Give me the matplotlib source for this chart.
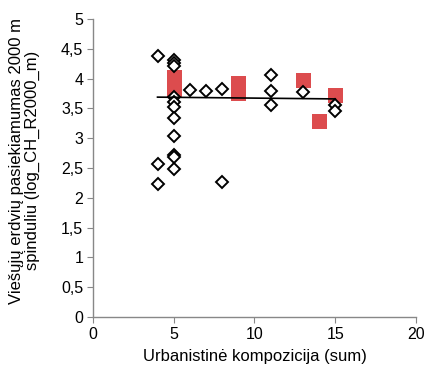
import matplotlib.pyplot as plt
import numpy as np

plt.rcParams['font.family'] = ['Liberation Sans', 'DejaVu Sans']

# diamonds (open markers)
x_diam = [4, 4, 4, 5, 5, 5, 5, 5, 5, 5, 5, 5, 5, 5, 6, 7, 8, 8, 11, 11, 11, 13, 15, 15]
y_diam = [4.38, 2.57, 2.23, 4.31, 4.26, 4.21, 3.69, 3.61, 3.53, 3.34, 3.04, 2.72, 2.68, 2.48,
          3.81, 3.80, 3.83, 2.27, 4.06, 3.79, 3.55, 3.77, 3.55, 3.46]

# red squares
x_red = [5, 5, 5, 9, 9, 13, 14, 15]
y_red = [4.03, 3.93, 3.83, 3.92, 3.76, 3.98, 3.29, 3.72]

# trend line end points
x_fit = [4, 15]
y_fit = [3.69, 3.66]

fs = 11.5
grey = '#888888'

fig = plt.figure(figsize=(4.28, 3.75), dpi=100)
ax = fig.add_axes([0.217, 0.155, 0.755, 0.794])

ax.plot(x_red, y_red, 's', color='#dc4c4e', markersize=10.8, markeredgewidth=0, zorder=2)
ax.plot(x_diam, y_diam, 'D', markerfacecolor='white', markeredgecolor='black',
        markersize=6.5, markeredgewidth=1.4, zorder=3)
ax.plot(x_fit, y_fit, '-', color='black', linewidth=1.2, zorder=4)

ax.set_xlim(0, 20)
ax.set_ylim(0, 5)
ax.set_xticks([0, 5, 10, 15, 20])
yt = np.arange(0, 5.01, 0.5)
ax.set_yticks(yt)
ax.set_yticklabels([('%g' % v).replace('.', ',') for v in yt])

for s in ['top', 'right']:
    ax.spines[s].set_visible(False)
for s in ['left', 'bottom']:
    ax.spines[s].set_color(grey)
    ax.spines[s].set_linewidth(1)
ax.tick_params(direction='out', length=4, color=grey, labelsize=fs, pad=3)

ax.set_xlabel('Urbanistinė kompozicija (sum)', fontsize=12, labelpad=5)
ax.set_ylabel('Viešųjų erdvių pasiekiamumas 2000 m\nspinduliu (log_CH_R2000_m)',
              fontsize=12, linespacing=1.0)
ax.yaxis.set_label_coords(-0.165, 0.525)

fig.savefig('out.png', dpi=100)
